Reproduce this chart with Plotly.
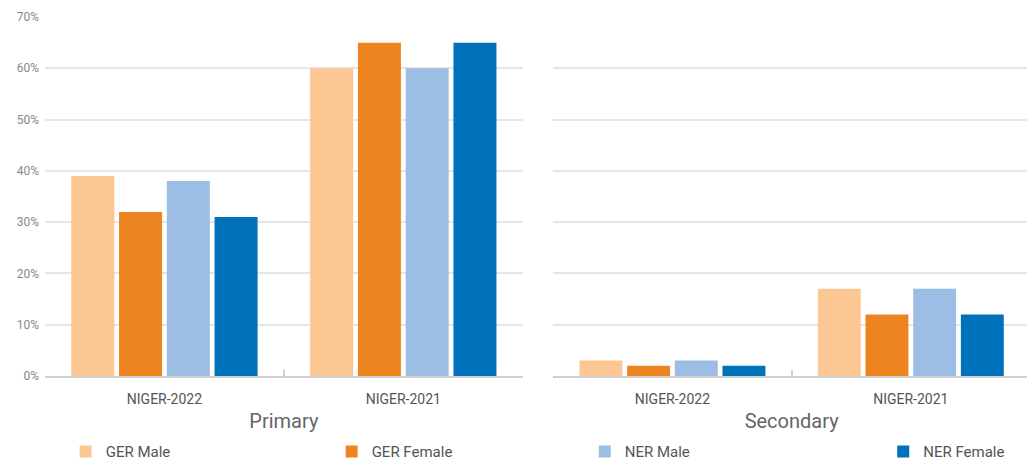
import plotly.graph_objects as go

categories = ["NIGER-2022", "NIGER-2021"]
series_names = ["GER Male", "GER Female", "NER Male", "NER Female"]
colors = ["#FDC794", "#EE841F", "#9CBDE4", "#0072BB"]

primary_values = {
    "GER Male": [39, 60],
    "GER Female": [32, 65],
    "NER Male": [38, 60],
    "NER Female": [31, 65],
}
secondary_values = {
    "GER Male": [3, 17],
    "GER Female": [2, 12],
    "NER Male": [3, 17],
    "NER Female": [2, 12],
}

y_ticks = [0, 10, 20, 30, 40, 50, 60, 70]
y_ticklabels = [f"{v}%" for v in y_ticks]

legend_ids = ["legend", "legend2", "legend3", "legend4"]
legend_x = [0.021, 0.291, 0.548, 0.851]

fig = go.Figure()
for name, col, lid in zip(series_names, colors, legend_ids):
    fig.add_trace(go.Bar(x=categories, y=primary_values[name], name=name,
                         marker=dict(color=col, line=dict(width=0)),
                         xaxis="x", yaxis="y", legendgroup=name, showlegend=True,
                         legend=lid))
for name, col in zip(series_names, colors):
    fig.add_trace(go.Bar(x=categories, y=secondary_values[name], name=name,
                         marker=dict(color=col, line=dict(width=0)),
                         xaxis="x2", yaxis="y2", legendgroup=name, showlegend=False))

font_family = "Roboto, 'Open Sans', sans-serif"
xcommon = dict(type="category", showgrid=False, zeroline=False, automargin=False,
               showline=True, linecolor="#d0d0d0", linewidth=2,
               ticks="inside", tickson="boundaries", ticklen=6, tickcolor="#d0d0d0", tickwidth=2,
               ticklabelstandoff=9,
               tickfont=dict(family=font_family, size=14, color="#555555"),
               title_font=dict(family=font_family, size=20, color="#666666"),
               title_standoff=8)
ycommon = dict(range=[0, 70], tickvals=y_ticks, showgrid=True, gridcolor="#e6e6e6", gridwidth=2,
               zeroline=False, showline=False, ticks="", automargin=False)

legend_common = dict(orientation="h", xanchor="left", y=-0.165, yanchor="top",
                     font=dict(family=font_family, size=15, color="#555555"),
                     bgcolor="rgba(0,0,0,0)")

layout_legends = {lid: dict(x=lx, **legend_common) for lid, lx in zip(legend_ids, legend_x)}

fig.update_layout(
    width=1035, height=463,
    margin=dict(l=37, r=13, t=9, b=95, autoexpand=False),
    paper_bgcolor="white", plot_bgcolor="white",
    barmode="group", bargap=0.2, bargroupgap=0.1,
    font=dict(family=font_family, color="#555555"),
    xaxis=dict(domain=[0, 0.485], anchor="y", title_text="Primary", **xcommon),
    xaxis2=dict(domain=[0.516, 1], anchor="y2", title_text="Secondary", **xcommon),
    yaxis=dict(anchor="x", ticktext=y_ticklabels, showticklabels=True, ticklabelstandoff=5,
               tickfont=dict(family=font_family, size=12, color="#888888"), **ycommon),
    yaxis2=dict(anchor="x2", showticklabels=False, **ycommon),
    showlegend=True,
    **layout_legends,
)

fig.write_html("out.html")
